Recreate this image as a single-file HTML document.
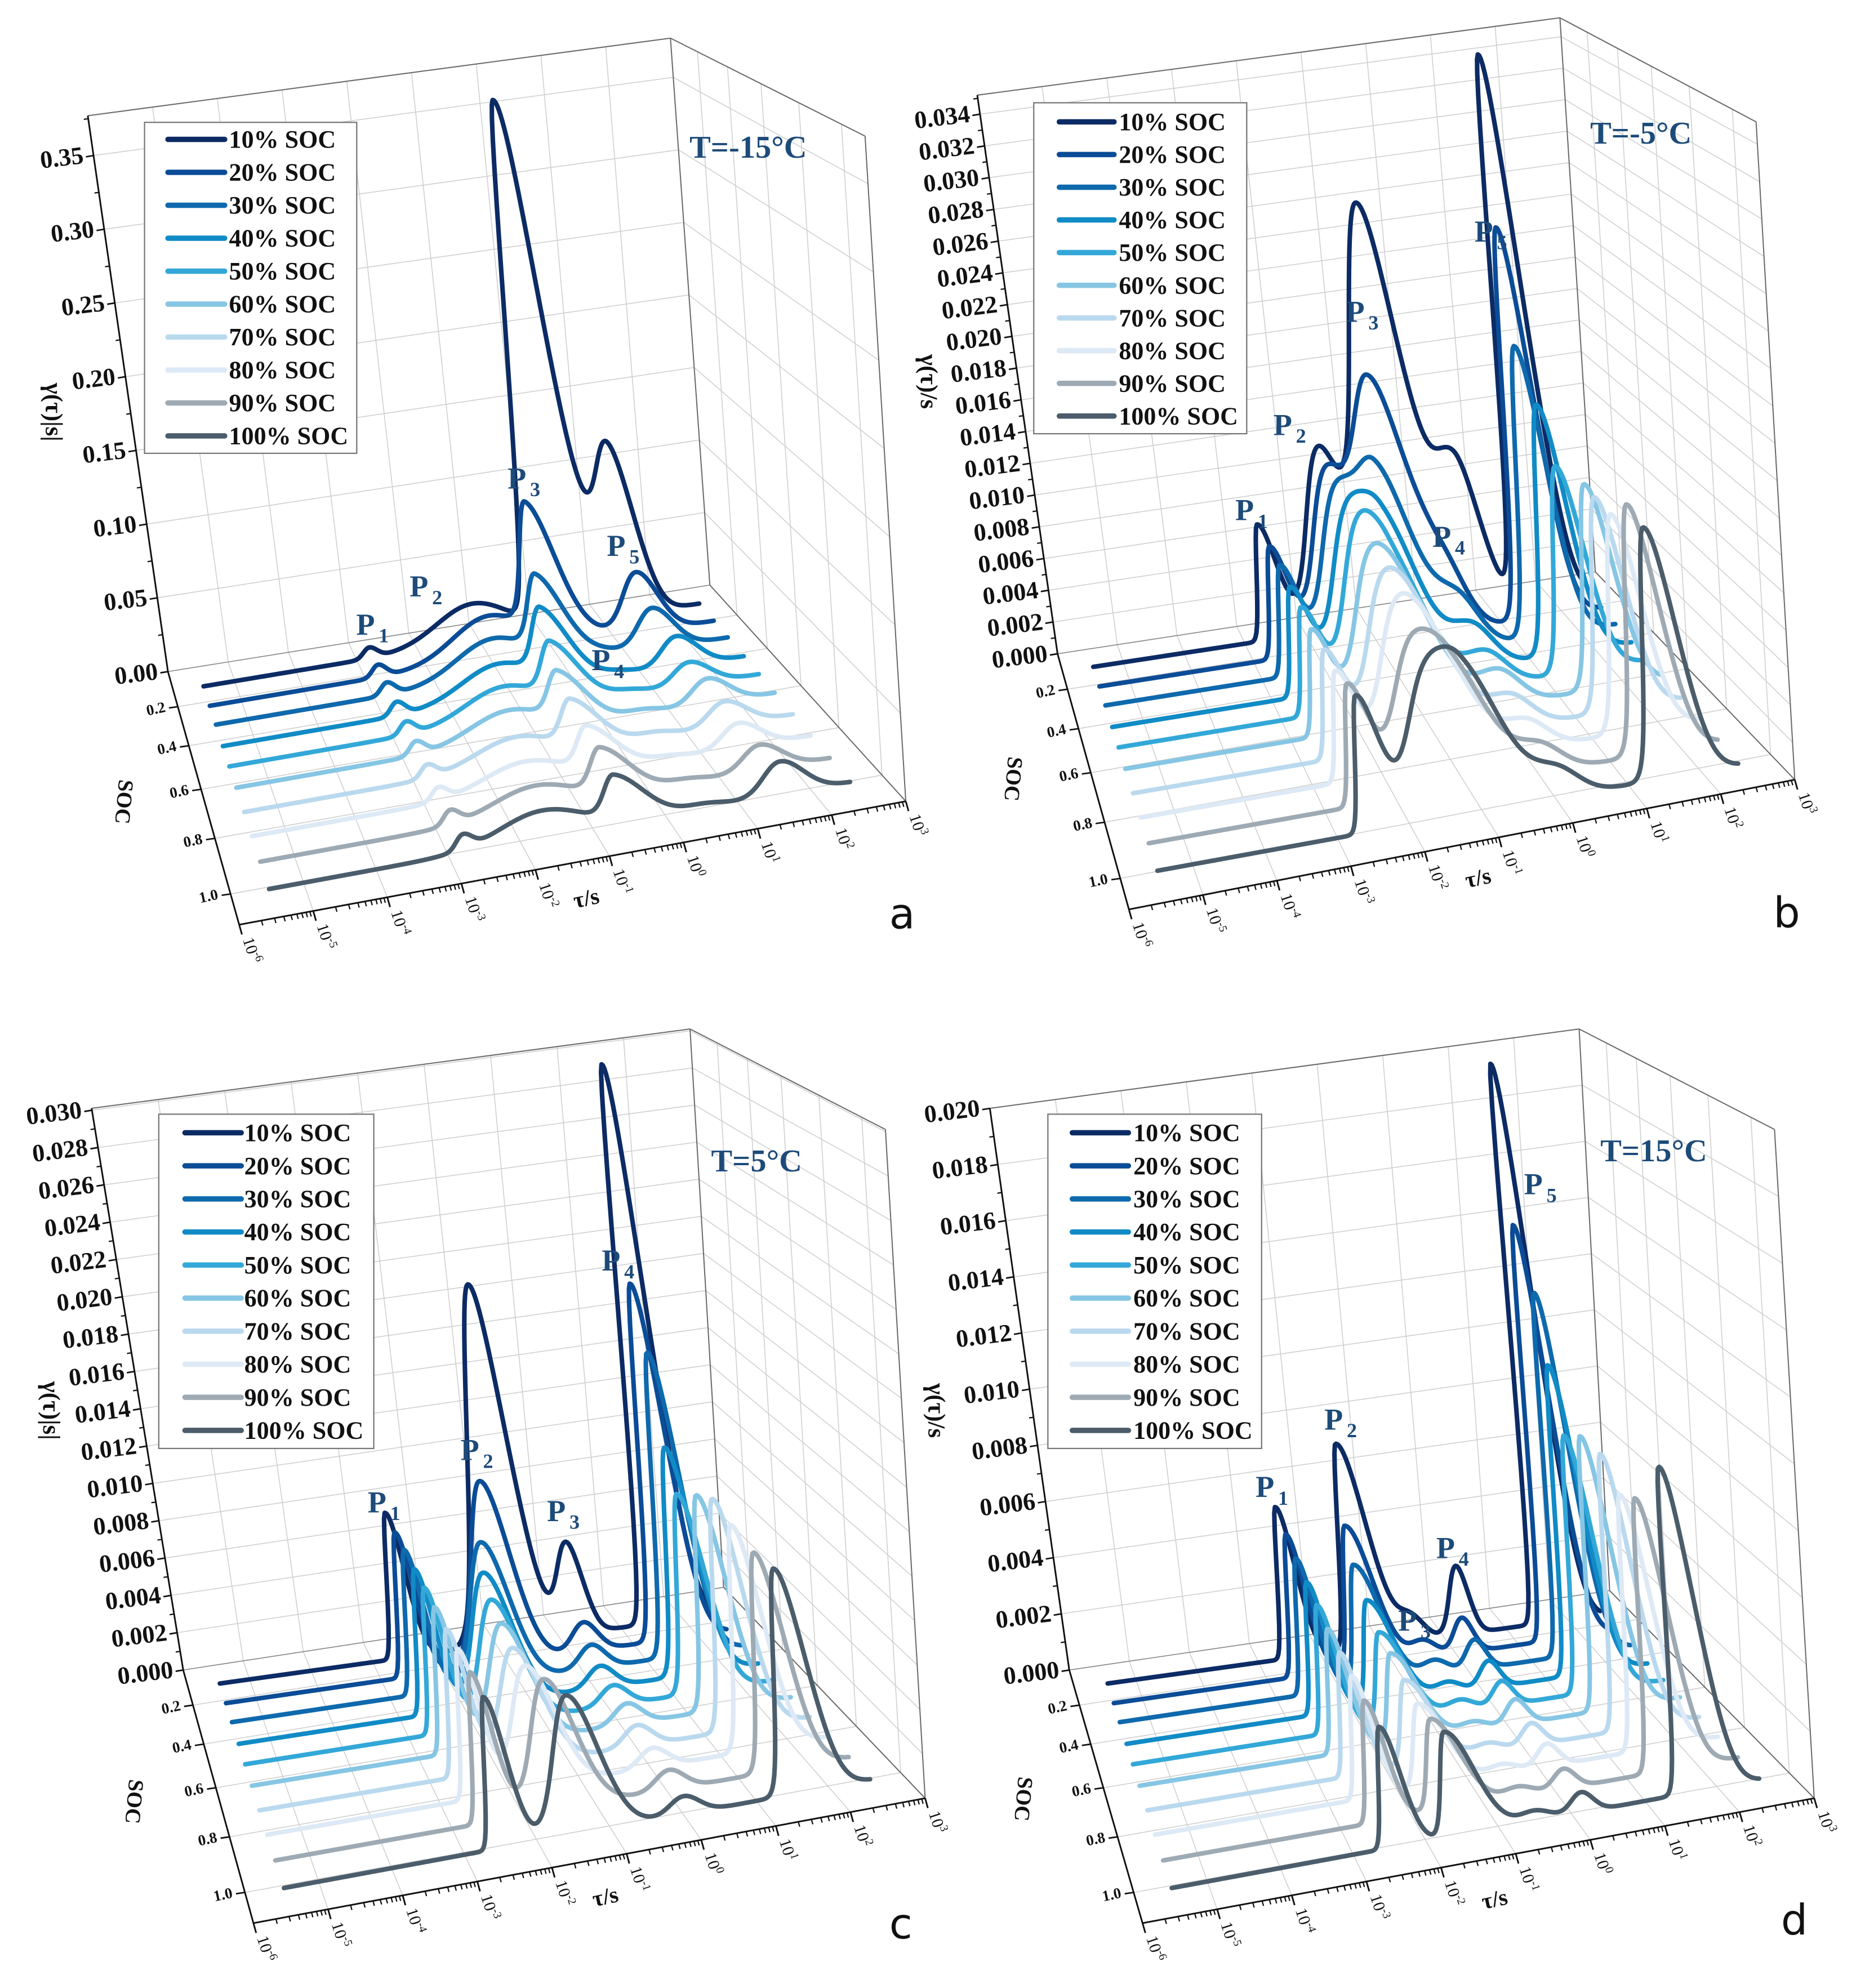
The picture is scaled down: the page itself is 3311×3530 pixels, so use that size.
<!DOCTYPE html>
<html><head><meta charset="utf-8">
<style>html,body{margin:0;padding:0;background:#fff}svg{display:block}</style>
</head><body>
<svg id="fig" xmlns="http://www.w3.org/2000/svg" width="3311" height="3530" viewBox="0 0 1466 1563"></svg>
<script>
// ---------- DATA (peak centres in log10(tau/s), heights in gamma units) ----------
const socNames = ['10% SOC','20% SOC','30% SOC','40% SOC','50% SOC','60% SOC','70% SOC','80% SOC','90% SOC','100% SOC'];
const socTicks = [0.2,0.4,0.6,0.8,1.0];
const tauExps = [-6,-5,-4,-3,-2,-1,0,1,2,3];

const aCenters = [
[-2.81,-1.1,0.02,0.75,1.29],[-2.81,-1.0,-0.27,0.6,1.36],[-2.81,-1.1,-0.37,0.6,1.38],
[-2.81,-1.2,-0.51,0.6,1.51],[-2.81,-1.3,-0.56,0.55,1.48],[-2.81,-1.4,-0.65,0.55,1.54],
[-2.81,-1.5,-0.67,0.5,1.54],[-2.81,-1.55,-0.64,0.5,1.5],[-2.81,-1.6,-0.66,0.5,1.55],
[-2.81,-1.7,-0.69,0.5,1.58]];
const aHeights = [
[0.007,0.025,0.35,0.025,0.11],[0.008,0.028,0.085,0.004,0.04],[0.008,0.025,0.05,0.004,0.027],
[0.0085,0.022,0.042,0.004,0.02],[0.008,0.02,0.034,0.004,0.015],[0.008,0.018,0.029,0.004,0.016],
[0.0075,0.016,0.027,0.004,0.015],[0.0075,0.015,0.025,0.003,0.015],[0.008,0.015,0.026,0.003,0.015],
[0.008,0.016,0.025,0.003,0.019]];
const aSigL = [0.1,0.6,0.15,0.3,0.25];
const aSigR = [0.12,0.6,0.4,0.3,0.3];

const bCenters = [
[-2.66,-1.58,-0.57,0.6,1.62],[-2.62,-1.65,-0.82,0.1,1.44],[-2.6,-1.68,-0.98,0.1,1.36],
[-2.6,-1.7,-1.1,0.1,1.41],[-2.58,-1.7,-1.18,0.1,1.42],[-2.58,-1.7,-1.18,0.1,1.63],
[-2.56,-1.7,-1.18,0.05,1.54],[-2.56,-1.7,-1.18,0.05,1.54],[-2.55,-1.7,-1.14,0.02,1.56],
[-2.59,-1.7,-1.12,0.02,1.53]];
const bHeights = [
[0.0072,0.011,0.026,0.009,0.034],[0.0068,0.010,0.016,0.0035,0.024],[0.0066,0.009,0.0115,0.003,0.0175],
[0.0064,0.008,0.0095,0.0025,0.0148],[0.0062,0.0075,0.008,0.002,0.012],[0.006,0.007,0.0072,0.002,0.0117],
[0.006,0.0068,0.007,0.0018,0.012],[0.006,0.0065,0.0068,0.0016,0.012],[0.0065,0.006,0.0068,0.0015,0.0135],
[0.0072,0.0058,0.0075,0.0015,0.0133]];
const bSigL = [0.08,0.3,0.35,0.35,0.15];
const bSigR = [0.25,0.3,0.45,0.3,0.3];

const cCenters = [
[-2.58,-0.88,0.28,1.62],[-2.58,-1.16,0.26,1.52],[-2.58,-1.38,0.18,1.49],[-2.58,-1.54,0.1,1.4],
[-2.58,-1.6,0.1,1.32],[-2.58,-1.63,0.1,1.41],[-2.58,-1.66,0.02,1.41],[-2.58,-1.66,0.02,1.42],
[-2.58,-1.58,0.02,1.47],[-2.58,-1.47,-0.02,1.48]];
const cHeights = [
[0.0077,0.019,0.0048,0.0295],[0.0075,0.0095,0.0015,0.0185],[0.0074,0.0072,0.0012,0.0155],
[0.0073,0.0066,0.0011,0.0114],[0.0072,0.0061,0.001,0.0098],[0.0071,0.0058,0.001,0.0104],
[0.007,0.0056,0.001,0.011],[0.007,0.0057,0.0009,0.0105],[0.0069,0.006,0.0009,0.01],
[0.0068,0.0062,0.0008,0.0101]];
const cSigL = [0.07,0.25,0.2,0.12];
const cSigR = [0.22,0.35,0.2,0.3];

const dCenters = [
[-2.54,-1.47,-0.54,0.26,1.62],[-2.54,-1.6,-0.54,0.1,1.52],[-2.54,-1.66,-0.54,0.1,1.55],
[-2.54,-1.66,-0.54,0.1,1.44],[-2.54,-1.66,-0.54,0.1,1.38],[-2.54,-1.66,-0.54,0.1,1.42],
[-2.54,-1.66,-0.54,0.1,1.46],[-2.54,-1.66,-0.54,0.1,1.46],[-2.54,-1.66,-0.54,0.1,1.44],
[-2.52,-1.66,-0.54,0.1,1.57]];
const dHeights = [
[0.0053,0.0072,0.0008,0.0024,0.0196],[0.0049,0.0049,0.0006,0.0012,0.0143],[0.0046,0.0041,0.0005,0.001,0.0123],
[0.0044,0.0035,0.0004,0.0009,0.0103],[0.0042,0.003,0.0004,0.0008,0.0084],[0.004,0.0029,0.0003,0.0008,0.0088],
[0.0039,0.0027,0.0003,0.0007,0.0087],[0.0038,0.0026,0.0003,0.0007,0.0079],[0.0037,0.0028,0.0003,0.0006,0.0083],
[0.0036,0.0031,0.0003,0.0006,0.0097]];
const dSigL = [0.07,0.1,0.2,0.15,0.1];
const dSigR = [0.22,0.35,0.2,0.15,0.28];

// ---------- STYLE / LAYOUT ----------
const rowColors = ['#0c2b65','#0b4c97','#0e69ad','#108bc6','#33a8d8','#86c6e4','#bad9ee','#dde9f5','#9eaab3','#4b5d6b'];
const rowDepth = [0,0.096,0.189,0.295,0.395,0.5,0.62,0.739,0.865,1];
const TITLE_COLOR = '#1d4b79';
const panels = [
 {key:'a', centers:aCenters, heights:aHeights, sigL:aSigL, sigR:aSigR,
  BL:[132,528],BR:[558,460],TL:[69,91],TR:[527,30],FL:[188,727],FR:[712,630],FRT:[680,107],
  zmax:0.377, step:0.05, nt:8, dec:2,
  S0:[160,539.6],S9:[211.5,699],E0:[549.6,474.6],E9:[668.2,615],sc0:1170,sc9:1370,
  leg:{x0:113.6,y0:96.2,x1:280.4,y1:356.4,y:109.6,dy:25.9,lx0:132,lx1:176.6,tx:180},
  title:{t:'T=-15°C',x:542,y:124}, letter:{t:'a',x:699,y:730},
  ylab:{t:'γ(τ)|s|',x:36,y:324}, soc:{x:92,y:630}, tau:{x:462,y:712},
  pk:[['1',280,499],['2',322,469],['3',399,384],['4',465,527],['5',477,437]]},
 {key:'b', centers:bCenters, heights:bHeights, sigL:bSigL, sigR:bSigR,
  BL:[831.3,514],BR:[1254,449.6],TL:[768.2,74.8],TR:[1226.2,14],FL:[887.4,715],FR:[1410.8,613],FRT:[1380.4,95.8],
  zmax:0.0352, step:0.002, nt:18, dec:3,
  S0:[859.4,524.3],S9:[909.8,684.6],E0:[1247.2,465],E9:[1366.4,601.4],sc0:12600,sc9:14800,
  leg:{x0:812.6,y0:80.8,x1:980,y1:341,y:95.8,dy:25.7,lx0:832.7,lx1:875.7,tx:879.5},
  title:{t:'T=-5°C',x:1250,y:113}, letter:{t:'b',x:1394,y:729},
  ylab:{t:'γ(τ)/s',x:724,y:300}, soc:{x:791,y:612}, tau:{x:1163,y:696},
  pk:[['1',971,409],['2',1001,342],['3',1058,253],['4',1126,430],['5',1159,190]]},
 {key:'c', centers:cCenters, heights:cHeights, sigL:cSigL, sigR:cSigR,
  BL:[144,1313],BR:[568.8,1248],TL:[72,871.4],TR:[542.4,809],FL:[199.2,1512],FR:[727.2,1413.8],FRT:[696,888],
  zmax:0.0301, step:0.002, nt:16, dec:3,
  S0:[172.8,1323.6],S9:[223.2,1484.4],E0:[559.2,1269.8],E9:[684,1399.4],sc0:14880,sc9:17520,
  leg:{x0:124.8,y0:876,x1:293.8,y1:1138.8,y:890.6,dy:26,lx0:145.4,lx1:189.6,tx:192},
  title:{t:'T=5°C',x:559,y:921}, letter:{t:'c',x:699,y:1524},
  ylab:{t:'γ(τ)|s|',x:34,y:1109}, soc:{x:100,y:1416}, tau:{x:477,y:1497},
  pk:[['1',289,1189],['2',362,1148],['3',430,1196],['4',473,999]]},
 {key:'d', centers:dCenters, heights:dHeights, sigL:dSigL, sigR:dSigR,
  BL:[840.5,1313],BR:[1265.3,1250.6],TL:[778.1,871.4],TR:[1241.3,809],FL:[898.1,1512],FR:[1426.1,1413.8],FRT:[1394.9,888],
  zmax:0.020, step:0.002, nt:11, dec:3,
  S0:[870.7,1323.6],S9:[921.1,1484.4],E0:[1258.1,1269.8],E9:[1382.9,1399.4],sc0:22416,sc9:26400,
  leg:{x0:823.7,y0:876,x1:991.7,y1:1138.8,y:890.6,dy:26,lx0:842.9,lx1:887,tx:890.9},
  title:{t:'T=15°C',x:1258,y:913}, letter:{t:'d',x:1400,y:1521},
  ylab:{t:'γ(τ)/s',x:730,y:1109}, soc:{x:799,y:1414}, tau:{x:1176,y:1499},
  pk:[['1',987,1177],['2',1041,1124],['3',1099,1282],['4',1129,1225],['5',1198,939]]}
];

// ---------- HELPERS ----------
const NS='http://www.w3.org/2000/svg';
const svg=document.getElementById('fig');
function mk(tag,attrs,parent){const e=document.createElementNS(NS,tag);for(const k in attrs)e.setAttribute(k,attrs[k]);(parent||svg).appendChild(e);return e;}
function lerp(a,b,t){return [a[0]+(b[0]-a[0])*t,a[1]+(b[1]-a[1])*t];}
function bil(p00,p10,p01,p11,u,v){return lerp(lerp(p00,p10,u),lerp(p01,p11,u),v);}
const PB=-0.25;
function depth(s){return s*(1+1.1*PB)/(1.1*(1+PB*s));}
function gam(P,i,lt){let v=0;for(let j=0;j<P.centers[i].length;j++){const d=lt-P.centers[i][j];const s=d<0?P.sigL[j]:P.sigR[j];v+=P.heights[i][j]*Math.exp(-0.5*d*d/(s*s));}return v;}
function line(g,a,b,st,w){return mk('line',{x1:a[0].toFixed(2),y1:a[1].toFixed(2),x2:b[0].toFixed(2),y2:b[1].toFixed(2),stroke:st,'stroke-width':w},g);}
const SERIF='"Liberation Serif","Times New Roman",serif';

panels.forEach(P=>{
  const G=mk('g',{});
  
  
  const back=(u,w)=>bil(P.BL,P.BR,P.TL,P.TR,u,w);
  const right=(f,w)=>bil(P.BR,P.FR,P.TR,P.FRT,f,w);
  const floor=(u,f)=>bil(P.BL,P.BR,P.FL,P.FR,u,f);

  const grid=mk('g',{},G);
  
  
  const GC='#cfcfcf', GW=0.7;
  for(let k=0;k<P.nt;k++){const w=k*P.step/P.zmax; if(w>1)break;
    line(grid,back(0,w),back(1,w),GC,GW); line(grid,right(0,w),right(1,w),GC,GW);}
  for(let k=1;k<9;k++){const u=k/9; line(grid,back(u,0),back(u,1),GC,GW); line(grid,floor(u,0),floor(u,1),GC,GW);}
  socTicks.forEach(s=>{const f=depth(s); line(grid,right(f,0),right(f,1),GC,GW); line(grid,floor(0,f),floor(1,f),GC,GW);});
  const BC='#6a6a6a';
  line(grid,P.TL,P.TR,BC,0.9); line(grid,P.TR,P.BR,BC,0.9); line(grid,P.TR,P.FRT,BC,0.9);
  line(grid,P.FRT,P.FR,BC,0.9); line(grid,P.BR,P.FR,BC,0.9); line(grid,P.BL,P.BR,'#888',0.7);

  const ax=mk('g',{},G);
  
  
  line(ax,P.BL,P.TL,'#111',1.3); line(ax,P.BL,P.FL,'#111',1.3); line(ax,P.FL,P.FR,'#111',1.3);
  for(let k=0;k<P.nt;k++){const val=k*P.step; const w=val/P.zmax; if(w>1.0001)break;
    const p=back(0,w);
    line(ax,p,[p[0]-6,p[1]+1],'#111',1.2);
    const hw=(val+P.step/2)/P.zmax; if(hw<1){const q=back(0,hw); line(ax,q,[q[0]-3.5,q[1]+0.5],'#111',1);}
    const t=mk('text',{x:(p[0]-8).toFixed(1),y:(p[1]+6).toFixed(1),'text-anchor':'end','font-family':SERIF,'font-weight':'bold','font-size':19.5,fill:'#111',transform:`rotate(-7 ${(p[0]-8).toFixed(1)} ${p[1].toFixed(1)})`},ax);
    
    
    t.textContent=val.toFixed(P.dec);
  }
  socTicks.forEach(s=>{const p=floor(0,depth(s)); line(ax,p,[p[0]-7,p[1]+1],'#111',1.2);
    const t=mk('text',{x:(p[0]-10).toFixed(1),y:(p[1]+4).toFixed(1),'text-anchor':'end','font-family':SERIF,'font-weight':'bold','font-size':12,fill:'#111',transform:`rotate(-12 ${(p[0]-10).toFixed(1)} ${p[1].toFixed(1)})`},ax);
    
    
    t.textContent=s.toFixed(1);});
  const dirv=[(P.FL[0]-P.BL[0]),(P.FL[1]-P.BL[1])]; const dl=Math.hypot(dirv[0],dirv[1]); const nd=[dirv[0]/dl,dirv[1]/dl];
  tauExps.forEach((e,k)=>{
    const p=lerp(P.FL,P.FR,k/9);
    line(ax,p,[p[0]+nd[0]*8,p[1]+nd[1]*8],'#111',1.3);
    if(k<9){for(let m=2;m<10;m++){const q=lerp(P.FL,P.FR,(k+Math.log10(m))/9); line(ax,q,[q[0]+nd[0]*4,q[1]+nd[1]*4],'#111',1);}}
    const tx=p[0]+nd[0]*10, ty=p[1]+nd[1]*10+2;
    const t=mk('text',{x:tx.toFixed(1),y:ty.toFixed(1),'font-family':SERIF,'font-size':13,fill:'#111',transform:`rotate(72 ${tx.toFixed(1)} ${ty.toFixed(1)})`},ax);
    
    
    t.textContent='10';
    const sp=mk('tspan',{dy:-5,'font-size':9},t); sp.textContent=String(e);
  });
  const yl=mk('text',{x:P.ylab.x,y:P.ylab.y,'text-anchor':'middle','font-family':SERIF,'font-weight':'bold','font-size':19,fill:'#111',transform:`rotate(90 ${P.ylab.x} ${P.ylab.y})`},ax);
  
  
  yl.textContent=P.ylab.t;
  const sl=mk('text',{x:P.soc.x,y:P.soc.y,'text-anchor':'middle','font-family':SERIF,'font-weight':'bold','font-size':17,fill:'#111',transform:`rotate(95 ${P.soc.x} ${P.soc.y})`},ax);
  
  
  sl.textContent='SOC';
  const tl=mk('text',{x:P.tau.x,y:P.tau.y,'text-anchor':'middle','font-family':SERIF,'font-weight':'bold','font-size':18,fill:'#111',transform:`rotate(-12 ${P.tau.x} ${P.tau.y})`},ax);
  
  
  tl.textContent='τ/s';

  const cg=mk('g',{},G);
  
  
  for(let i=0;i<10;i++){
    const gr=rowDepth[i]; const S=lerp(P.S0,P.S9,gr), E=lerp(P.E0,P.E9,gr); const sc=P.sc0+(P.sc9-P.sc0)*gr;
    let d='';
    for(let lt=-5.5;lt<=2.5001;lt+=0.02){
      const u=(lt+5.5)/8; const b=lerp(S,E,u); const H=gam(P,i,lt)*sc;
      const x=b[0]-0.1*H, y=b[1]-H;
      d+=(d?'L':'M')+x.toFixed(2)+' '+y.toFixed(2);
    }
    const pth=mk('path',{d:d,fill:'none',stroke:rowColors[i],'stroke-width':3.6,'stroke-linejoin':'round','stroke-linecap':'round'},cg);
    
    
  }

  P.pk.forEach(pk=>{
    const t=mk('text',{x:pk[1],y:pk[2],'font-family':SERIF,'font-weight':'bold','font-size':24,fill:TITLE_COLOR},G);
    
    
    t.textContent='P';
    const s=mk('tspan',{dx:3,dy:6,'font-size':16},t); s.textContent=pk[0];
  });

  const L=P.leg;
  const lg=mk('g',{},G);
  
  
  const rb=mk('rect',{x:L.x0,y:L.y0,width:L.x1-L.x0,height:L.y1-L.y0,fill:'#fff',stroke:'#777','stroke-width':1},lg);
  
  
  socNames.forEach((n,i)=>{
    const y=L.y+i*L.dy;
    const ln=mk('line',{x1:L.lx0,y1:y,x2:L.lx1,y2:y,stroke:rowColors[i],'stroke-width':4.2,'stroke-linecap':'round'},lg);
    
    
    const t=mk('text',{x:L.tx,y:y+6.5,'font-family':SERIF,'font-weight':'bold','font-size':19.5,fill:'#111'},lg);
    
    
    t.textContent=n;
  });

  const tt=mk('text',{x:P.title.x,y:P.title.y,'font-family':SERIF,'font-weight':'bold','font-size':25,fill:TITLE_COLOR},G);
  
  
  tt.textContent=P.title.t;
  const lt=mk('text',{x:P.letter.x,y:P.letter.y,'font-family':'"DejaVu Sans","Liberation Sans",sans-serif','font-size':33,fill:'#111'},G);
  
  
  lt.textContent=P.letter.t;
});
</script>
</body></html>
